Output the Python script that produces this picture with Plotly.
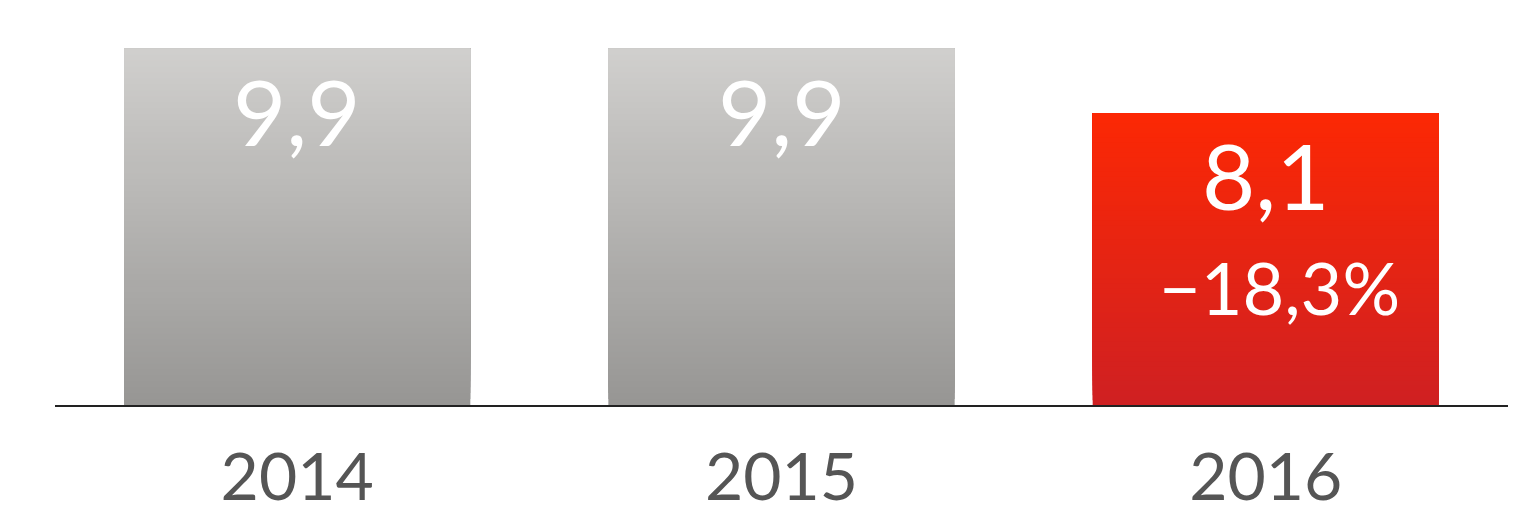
import plotly.graph_objects as go

categories = ["2014", "2015", "2016"]
values = [9.9, 9.9, 8.1]
value_labels = ["9,9", "9,9", "8,1"]
change_labels = ["", "", "−18,3%"]
top_colors = [(208, 207, 205), (208, 207, 205), (252, 40, 4)]
bottom_colors = [(151, 150, 148), (151, 150, 148), (207, 32, 34)]

N = 60
BAR_WIDTH = 0.715
fig = go.Figure()
for k in range(N):
    t = k / N
    cols = []
    for tc, bc in zip(top_colors, bottom_colors):
        c = [round(bc[i] + (tc[i] - bc[i]) * (k + 0.5) / N) for i in range(3)]
        cols.append(f"rgb({c[0]},{c[1]},{c[2]})")
    fig.add_trace(go.Bar(
        x=categories,
        y=[v * (1 - t) for v in values],
        base=[v * t for v in values],
        width=BAR_WIDTH,
        marker=dict(color=cols, line=dict(width=0)),
        hoverinfo="skip",
        showlegend=False,
    ))

for i, (v, lab, ch) in enumerate(zip(values, value_labels, change_labels)):
    fig.add_annotation(x=i, y=v, xref="x", yref="y", text=lab, showarrow=False,
                       yanchor="top", yshift=-4,
                       font=dict(family="Lato", size=92, color="white"))
    if ch:
        fig.add_annotation(x=i, y=v, xref="x", yref="y", text=ch, showarrow=False,
                           yanchor="top", yshift=-129, xshift=14,
                           font=dict(family="Lato", size=72, color="white"))

fig.update_layout(
    template="none",
    width=1535, height=515,
    margin=dict(l=47, r=35, t=0, b=118, autoexpand=False),
    barmode="overlay",
    plot_bgcolor="white", paper_bgcolor="white",
    xaxis=dict(type="category", range=[-0.5, 2.5], showline=True, linecolor="#222222",
               linewidth=2, ticks="", automargin=False, ticklabelstandoff=14,
               tickfont=dict(family="Lato", size=66, color="#555555"),
               showgrid=False, zeroline=False),
    yaxis=dict(range=[0, 11.03], visible=False, showgrid=False, zeroline=False),
)

fig.write_html("out.html")
